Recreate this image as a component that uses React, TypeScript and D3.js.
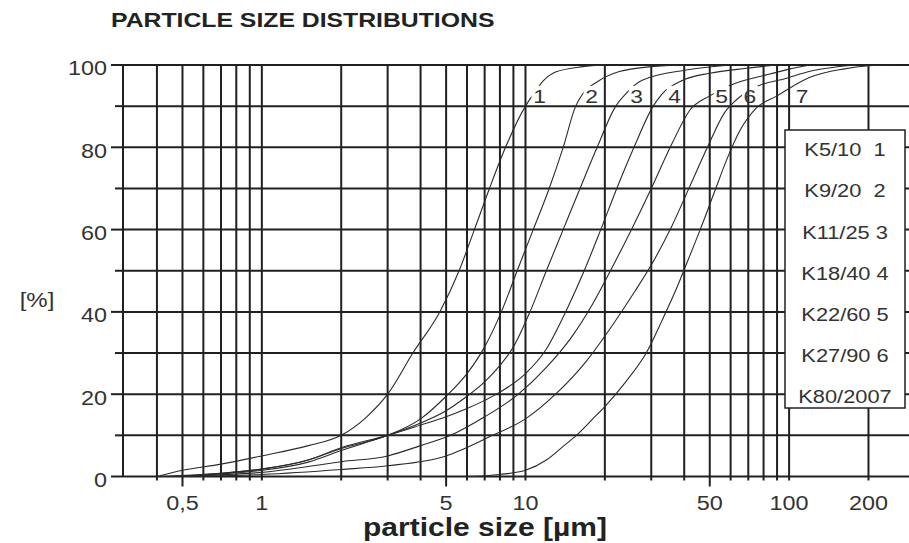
import React from 'react';
import * as d3 from 'd3';

// ---------- data ----------
const gridXValues = [0.4, 0.5, 0.6, 0.7, 0.8, 0.9, 1, 2, 3, 4, 5, 6, 7, 8, 9, 10, 20, 30, 40, 50, 60, 70, 80, 90, 100, 200];
const longTickValues = [0.5, 5, 50];
const xTickValues = [0.5, 1, 5, 10, 50, 100, 200];
const xTickText = ['0,5', '1', '5', '10', '50', '100', '200'];
const yGridValues = [0, 10, 20, 30, 40, 50, 60, 70, 80, 90, 100];
const yTickValues = [0, 20, 40, 60, 80, 100];

const seriesNames = ['K5/10', 'K9/20', 'K11/25', 'K18/40', 'K22/60', 'K27/90', 'K80/200'];
const seriesIds = ['1', '2', '3', '4', '5', '6', '7'];
const legendRowValues = [80, 70, 60, 50, 40, 30, 20];
const labelXValues = [11.3, 17.8, 26.4, 36.8, 55.5, 71, 112];
const labelYValue = 92.5;

const k5_10: [number, number][] = [[0.4, 0], [0.5, 1.5], [0.7, 3], [1, 5], [1.5, 7.5], [2, 10], [2.5, 14.5], [3, 20], [3.74, 30], [4.73, 40], [5.6, 50], [6.4, 60], [7.3, 70], [8.4, 80], [10, 90], [10.6, 92.5], [11.7, 96.2], [13, 98.3], [16.5, 99.6], [20, 100]];
const k9_20: [number, number][] = [[0.45, 0], [0.6, 0.5], [1, 1.8], [1.5, 4], [2, 6.8], [3, 10], [4, 14], [5, 19.5], [6, 25], [7, 31.5], [8.1, 40], [9.3, 50], [10.7, 60], [12.3, 70], [13.9, 80], [15.5, 90], [16.5, 93], [18.8, 96], [22.7, 98.4], [30, 99.6], [40, 100]];
const k11_25: [number, number][] = [[0.45, 0], [0.7, 0.6], [1, 1.5], [1.5, 3.5], [2, 6.3], [3, 10], [4, 13], [5, 16], [6, 19.5], [7, 23], [8, 27], [9, 31.5], [10.4, 40], [12, 50], [13.9, 60], [16.1, 70], [18.7, 80], [22, 90], [24, 93], [27.7, 96.3], [40.7, 98.8], [60, 100]];
const k18_40: [number, number][] = [[0.4, 0], [0.7, 0.8], [1, 1.8], [1.5, 4], [2, 7], [3, 10], [4, 12.5], [5, 14.5], [6, 16.5], [7, 18.5], [8, 20.5], [10, 25], [12, 31], [14.2, 40], [16.7, 50], [19.3, 60], [22.2, 70], [25.8, 80], [30.5, 90], [33, 93], [39.5, 96.3], [50, 98], [69, 99.2], [90, 100]];
const k22_60: [number, number][] = [[0.45, 0], [1, 1], [2, 3.6], [3, 5], [4, 7.5], [5.2, 10], [7, 14.5], [9.4, 20], [12, 26.5], [15, 34], [18, 42], [21, 50], [25, 59.5], [30, 70], [36, 81], [42, 89], [50, 92.5], [60, 95.1], [82, 97.6], [100, 99], [120, 100]];
const k27_90: [number, number][] = [[0.5, 0], [1, 0.5], [2, 1.7], [3, 2.6], [5, 5], [7.5, 10], [10, 14], [13, 20], [17, 28], [21.5, 37], [26, 45], [31, 53], [36, 61], [42, 70.5], [49, 80], [57, 88.5], [63, 91.5], [75, 94.7], [98, 96.8], [120, 98.5], [150, 99.5], [180, 100]];
const k80_200: [number, number][] = [[6, 0], [8, 0.5], [10, 1.5], [12, 4], [14, 7.5], [15.6, 10], [18, 14], [20, 17], [24, 23], [28.7, 30], [33, 38], [37, 45], [41, 52], [46, 60], [52, 69], [58, 77], [65, 84], [75, 89.5], [90, 92.5], [120, 97], [160, 99], [200, 99.8], [250, 100]];

const seriesData = [k5_10, k9_20, k11_25, k18_40, k22_60, k27_90, k80_200];

// ---------- layout ----------
const W = 909;
const H = 543;
const plotLeft = 124;
const plotRight = 907;
const plotTop = 65;
const plotBottom = 476.5;
const FONT = "'Liberation Sans', Arial, Helvetica, sans-serif";
const GRID = '#202020';
const TEXT = '#333';
const SX = 1.2;

function SText(props: {
  x: number;
  y: number;
  size: number;
  anchor?: 'start' | 'middle' | 'end';
  weight?: string;
  fill?: string;
  sx?: number;
  baseline?: string;
  children: React.ReactNode;
}) {
  const { x, y, size, anchor = 'start', weight = 'normal', fill = TEXT, sx = SX, baseline = 'central', children } = props;
  return (
    <text
      transform={`translate(${x},${y}) scale(${sx},1)`}
      fontSize={size}
      fontWeight={weight}
      fill={fill}
      textAnchor={anchor}
      dominantBaseline={baseline}
      style={{ whiteSpace: 'pre' }}
    >
      {children}
    </text>
  );
}

function legendRow(name: string, id: string) {
  const pad = name.length <= 5 ? '  ' : name.length === 6 ? ' ' : '';
  return name + pad + id;
}

export default function App() {
  const x = d3.scaleLog().domain([0.3, 280]).range([plotLeft, plotRight]);
  const y = d3.scaleLinear().domain([0, 100]).range([plotBottom, plotTop]);
  const line = d3
    .line<[number, number]>()
    .x((d) => x(d[0]))
    .y((d) => y(d[1]))
    .curve(d3.curveMonotoneX);

  const axisX = plotLeft - 1;
  const legend = { x: 785, y: 130, w: 120, h: 278 };

  return (
    <svg
      width={W}
      height={H}
      viewBox={`0 0 ${W} ${H}`}
      style={{ position: 'absolute', left: 0, top: 0, background: '#fff' }}
      fontFamily={FONT}
    >
      <defs>
        <mask id="labelGaps" maskUnits="userSpaceOnUse" x={0} y={0} width={W} height={H}>
          <rect x={0} y={0} width={W} height={H} fill="#fff" />
          {labelXValues.map((v, i) => (
            <rect key={i} x={x(v) - 8} y={y(labelYValue) - 10} width={16} height={21} fill="#000" />
          ))}
        </mask>
      </defs>

      {/* title */}
      <SText x={111} y={27} size={21} weight="bold" fill="#222" sx={1.18} baseline="alphabetic">
        PARTICLE SIZE DISTRIBUTIONS
      </SText>

      {/* horizontal grid */}
      {yGridValues.map((v) => (
        <line key={'h' + v} x1={axisX} x2={W} y1={y(v)} y2={y(v)} stroke={GRID} strokeWidth={2} />
      ))}
      {/* vertical grid */}
      <line x1={axisX} x2={axisX} y1={plotTop} y2={plotBottom} stroke={GRID} strokeWidth={2} />
      {gridXValues.map((v) => (
        <line key={'v' + v} x1={x(v)} x2={x(v)} y1={plotTop} y2={plotBottom} stroke={GRID} strokeWidth={2} />
      ))}
      {/* x ticks below axis */}
      {gridXValues.map((v) => (
        <line
          key={'t' + v}
          x1={x(v)}
          x2={x(v)}
          y1={plotBottom}
          y2={plotBottom + (longTickValues.includes(v) ? 10 : 4)}
          stroke={GRID}
          strokeWidth={2}
        />
      ))}
      {/* y ticks */}
      {yGridValues.map((v) => (
        <line
          key={'yt' + v}
          x1={axisX - (yTickValues.includes(v) ? 12 : 8)}
          x2={axisX}
          y1={y(v)}
          y2={y(v)}
          stroke={GRID}
          strokeWidth={2}
        />
      ))}

      {/* curves */}
      <g mask="url(#labelGaps)">
        {seriesData.map((d, i) => (
          <path key={'c' + i} d={line(d) || ''} fill="none" stroke="#2a2a2a" strokeWidth={1.1} />
        ))}
      </g>
      {labelXValues.map((v, i) => (
        <SText key={'l' + i} x={x(v)} y={y(labelYValue)} size={19} anchor="middle">
          {seriesIds[i]}
        </SText>
      ))}

      {/* y tick labels */}
      {yTickValues.map((v) => (
        <SText key={'yl' + v} x={107} y={y(v) + 4} size={19.5} anchor="end">
          {v}
        </SText>
      ))}
      <SText x={37} y={300} size={20} anchor="middle">
        [%]
      </SText>

      {/* x tick labels */}
      {xTickValues.map((v, i) => (
        <SText key={'xl' + v} x={x(v)} y={503.5} size={19.5} anchor="middle">
          {xTickText[i]}
        </SText>
      ))}
      <SText x={485} y={536} size={25} weight="bold" fill="#222" anchor="middle" baseline="alphabetic">
        particle size [µm]
      </SText>

      {/* legend */}
      <rect x={legend.x} y={legend.y} width={legend.w} height={legend.h} fill="#fff" stroke={GRID} strokeWidth={1.5} />
      {seriesNames.map((n, i) => (
        <SText key={'lg' + i} x={845} y={y(legendRowValues[i]) + 2.5} size={18.5} sx={1.18} anchor="middle">
          {legendRow(n, seriesIds[i])}
        </SText>
      ))}
    </svg>
  );
}
